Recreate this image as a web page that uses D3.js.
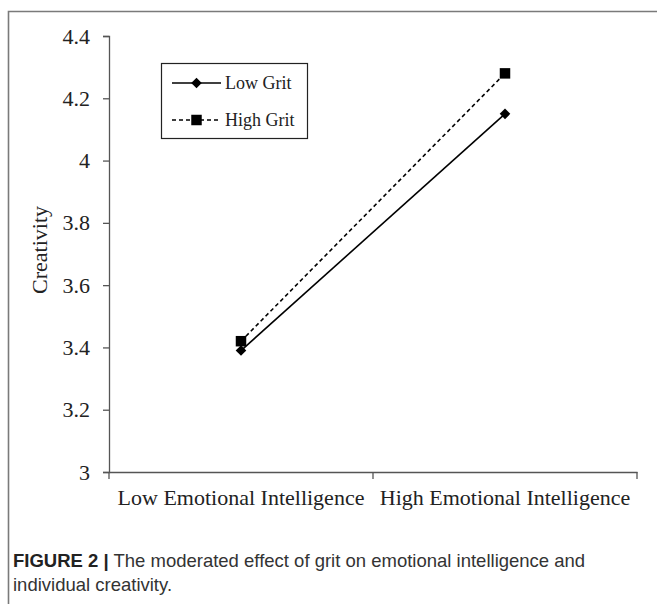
<!DOCTYPE html>
<html>
<head>
<meta charset="utf-8">
<script src="https://cdn.jsdelivr.net/npm/d3@7"></script>
<style>
html,body{margin:0;padding:0;background:#fff;}
svg{display:block;}
</style>
</head>
<body>
<svg id="chart" width="657" height="604"></svg>
<script>
const categories = ["Low Emotional Intelligence", "High Emotional Intelligence"];
const lowGrit = [3.39, 4.15];
const highGrit = [3.42, 4.28];
const seriesNames = ["Low Grit", "High Grit"];
const yTicks = [3, 3.2, 3.4, 3.6, 3.8, 4, 4.2, 4.4];
const yTitle = "Creativity";
const captionBold = "FIGURE 2 |";
const captionLine1 = " The moderated effect of grit on emotional intelligence and";
const captionLine2 = "individual creativity.";

(function(){
const svg = d3.select("#chart");
const serif = "'Liberation Serif','Times New Roman',serif";
const sans = "'Liberation Sans',Arial,Helvetica,sans-serif";

// frame (open on right/bottom as cropped)
svg.append("path")
  .attr("d", "M8.5,604 L8.5,11.5 L657,11.5")
  .attr("fill", "none").attr("stroke", "#7a7a7a").attr("stroke-width", 1.6);

const pLeft = 109, pRight = 637, pTop = 36, pBottom = 472;
const x = d3.scaleBand().domain(categories).range([pLeft, pRight]).padding(0);
const y = d3.scaleLinear().domain([3, 4.4]).range([pBottom, pTop]);

// Y axis
const yAxis = svg.append("g").attr("transform", `translate(${pLeft},0)`)
  .call(d3.axisLeft(y).tickValues(yTicks).tickFormat(d => String(+d.toFixed(1))).tickSize(6).tickPadding(13));
yAxis.select(".domain").attr("stroke", "#555").attr("stroke-width", 1.3);
yAxis.selectAll(".tick line").attr("stroke", "#555").attr("stroke-width", 1.3);
yAxis.selectAll(".tick text").attr("font-family", serif).attr("font-size", 22).attr("fill", "#222");

// X axis
const xAxis = svg.append("g").attr("transform", `translate(0,${pBottom})`)
  .call(d3.axisBottom(x).tickSize(0).tickPadding(17).tickSizeOuter(0));
xAxis.select(".domain").attr("stroke", "#555").attr("stroke-width", 1.3);
xAxis.selectAll(".tick text").attr("font-family", serif).attr("font-size", 22).attr("fill", "#222");
// boundary tick marks
const bounds = categories.map(c => x(c)).concat([x(categories[categories.length-1]) + x.bandwidth()]);
xAxis.selectAll(".bt").data(bounds).enter().append("line")
  .attr("x1", d => d).attr("x2", d => d).attr("y1", 0).attr("y2", 7)
  .attr("stroke", "#555").attr("stroke-width", 1.3);

// Y title
svg.append("text")
  .attr("transform", `translate(47,250) rotate(-90)`)
  .attr("text-anchor", "middle")
  .attr("font-family", serif).attr("font-size", 22).attr("fill", "#222")
  .text(yTitle);

const cx = c => x(c) + x.bandwidth() / 2;
const line = d3.line().x((d, i) => cx(categories[i])).y(d => y(d));

// series
svg.append("path").datum(lowGrit).attr("d", line)
  .attr("fill", "none").attr("stroke", "#000").attr("stroke-width", 1.6);
svg.append("path").datum(highGrit).attr("d", line)
  .attr("fill", "none").attr("stroke", "#000").attr("stroke-width", 1.6)
  .attr("stroke-dasharray", "4,3");

const diamond = d3.symbol().type(d3.symbolSquare).size(56);
const square = d3.symbol().type(d3.symbolSquare).size(110);

svg.selectAll(".dm").data(lowGrit).enter().append("path")
  .attr("d", diamond)
  .attr("transform", (d, i) => `translate(${cx(categories[i])},${y(d)}) rotate(45)`)
  .attr("fill", "#000");
svg.selectAll(".sq").data(highGrit).enter().append("path")
  .attr("d", square)
  .attr("transform", (d, i) => `translate(${cx(categories[i])},${y(d)})`)
  .attr("fill", "#000");

// legend
const lg = svg.append("g");
lg.append("rect").attr("x", 161.5).attr("y", 63.5).attr("width", 146).attr("height", 75)
  .attr("fill", "#fff").attr("stroke", "#222").attr("stroke-width", 1.2);
const legendRows = [
  {name: seriesNames[0], y: 83, dash: null, sym: diamond, rot: " rotate(45)"},
  {name: seriesNames[1], y: 120, dash: "4,3", sym: square, rot: ""}
];
legendRows.forEach(r => {
  lg.append("line").attr("x1", 172).attr("x2", 221).attr("y1", r.y).attr("y2", r.y)
    .attr("stroke", "#000").attr("stroke-width", 1.6).attr("stroke-dasharray", r.dash);
  lg.append("path").attr("d", r.sym).attr("transform", `translate(196.5,${r.y})${r.rot}`).attr("fill", "#000");
  lg.append("text").attr("x", 225).attr("y", r.y + 6)
    .attr("font-family", serif).attr("font-size", 18).attr("fill", "#222").text(r.name);
});

// caption
const cap = svg.append("text").attr("x", 13).attr("y", 567)
  .attr("font-family", sans).attr("font-size", 18.5).attr("fill", "#333");
cap.append("tspan").attr("font-weight", "bold").attr("fill", "#222").text(captionBold);
cap.append("tspan").text(captionLine1);
svg.append("text").attr("x", 13).attr("y", 591)
  .attr("font-family", sans).attr("font-size", 18.5).attr("fill", "#333").text(captionLine2);
})();
</script>
</body>
</html>
